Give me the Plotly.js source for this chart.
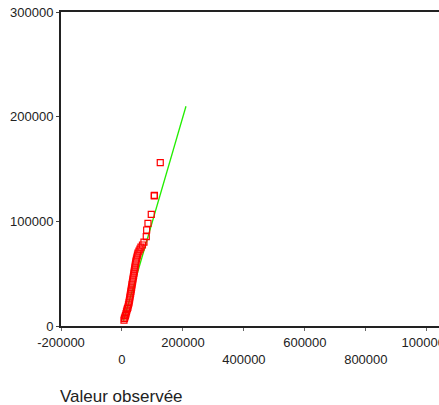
<!DOCTYPE html>
<html>
<head>
<meta charset="utf-8">
<script src="https://cdn.plot.ly/plotly-3.0.1.min.js"></script>
<style>html,body{margin:0;padding:0;background:#fff;}#chart{width:439px;height:405px;}</style>
</head>
<body>
<div id="chart"></div>
<script>
// Observed values (x) and expected values (y)
const observed = [6600, 8200, 9800, 11500, 13100, 14800, 16400, 18000, 19700, 21300,
  23000, 23900, 25200, 26200, 27200, 28500, 29500, 30500, 31800, 32800,
  33800, 35100, 36100, 37100, 38400, 39300, 40300, 41600, 42600, 43600,
  44900, 45900, 47500, 49200, 50800, 52500, 55700, 59000, 62300, 67200,
  72100, 79700, 81000, 85300, 96100, 105900, 106500, 125600];
const expected = [5700, 7200, 8600, 10000, 11500, 13400, 15300, 16700, 18100, 20100,
  22000, 23900, 25800, 27700, 29600, 31500, 33400, 35300, 37200, 39200,
  41100, 43000, 44900, 46800, 48700, 50600, 52500, 54400, 56300, 58300,
  60200, 62100, 64000, 65900, 67800, 69700, 71600, 73500, 75400, 77400,
  80200, 85300, 91700, 98100, 106700, 124400, 124800, 156000];
// Reference line y = x
const refLine = [5000, 210000];
// Tick values and labels (labels alternate between two rows)
const xTickVals = [-200000, 0, 200000, 400000, 600000, 800000, 1000000];
const xTickText = ["-200000", "<br>0", "200000", "<br>400000", "600000", "<br>800000", "1000000"];
const yTickVals = [0, 100000, 200000, 300000];
const yTickText = ["0", "100000", "200000", "300000"];
const xTitle = "Valeur observée";

const font = "Liberation Sans, Arial, sans-serif";

const traces = [
  {
    x: refLine, y: refLine, type: "scatter", mode: "lines",
    line: {color: "#22ee00", width: 1.3}, hoverinfo: "skip", showlegend: false
  },
  {
    x: observed, y: expected, type: "scatter", mode: "markers",
    marker: {symbol: "square-open", size: 6, color: "#ff0000", line: {width: 1.2, color: "#ff0000"}},
    showlegend: false
  }
];

const layout = {
  width: 439, height: 405,
  margin: {l: 61, r: 0, t: 12, b: 79},
  paper_bgcolor: "#fff", plot_bgcolor: "#fff",
  font: {family: font, size: 13, color: "#222"},
  showlegend: false,
  xaxis: {
    range: [-200000, 1040000],
    tickmode: "array", tickvals: xTickVals, ticktext: xTickText,
    tickangle: 0, ticks: "outside", ticklen: 3, tickcolor: "#666", tickwidth: 1,
    showline: true, linecolor: "#222", linewidth: 2, mirror: true,
    showgrid: false, zeroline: false,
    ticklabeloverflow: "allow",
    tickfont: {family: font, size: 13, color: "#222"}
  },
  yaxis: {
    range: [0, 300000],
    tickmode: "array", tickvals: yTickVals, ticktext: yTickText,
    ticks: "outside", ticklen: 3, tickcolor: "#444", tickwidth: 1,
    showline: true, linecolor: "#222", linewidth: 2, mirror: false,
    showgrid: false, zeroline: false,
    tickfont: {family: font, size: 13, color: "#222"}
  },
  annotations: [{
    text: xTitle, xref: "paper", yref: "paper", x: -0.008, y: -0.225,
    xanchor: "left", yanchor: "middle", showarrow: false,
    font: {family: font, size: 17, color: "#222"}
  }]
};

Plotly.newPlot("chart", traces, layout, {displayModeBar: false, staticPlot: true});
</script>
</body>
</html>
